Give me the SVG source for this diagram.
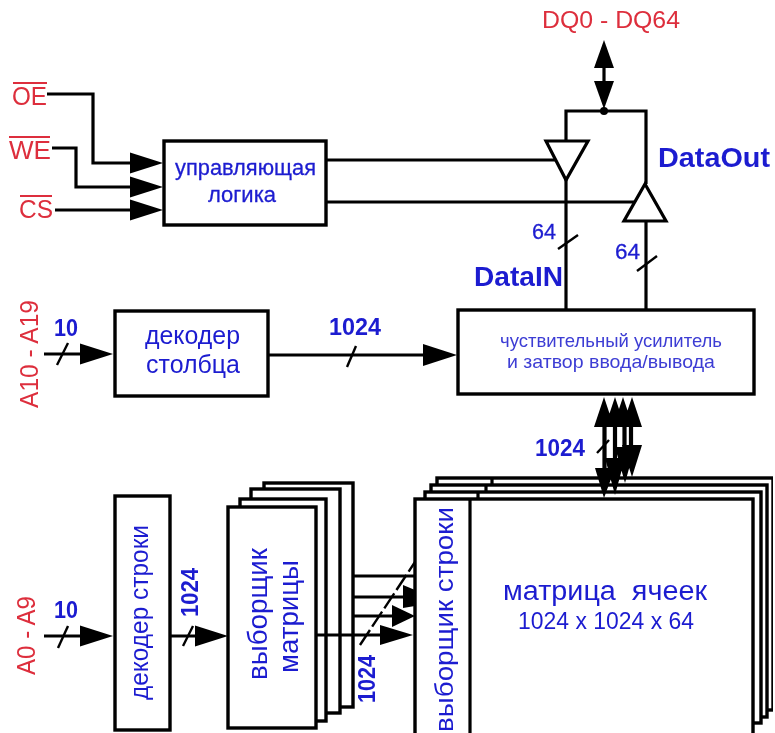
<svg xmlns="http://www.w3.org/2000/svg" xmlns:xlink="http://www.w3.org/1999/xlink" width="775" height="733" viewBox="0 0 775 733">
<style>
text{font-family:"Liberation Sans",Arial,sans-serif}
.box{fill:#fff;stroke:#000;stroke-width:3.4}
.w{fill:none;stroke:#000;stroke-width:3.2}
.t{fill:none;stroke:#000;stroke-width:2.8}
.v{fill:none;stroke:#000;stroke-width:4.2}
.sl{fill:none;stroke:#000;stroke-width:2.4}
.tri{fill:#fff;stroke:#000;stroke-width:3.2;stroke-linejoin:miter}
.r{fill:#dd2f3c;font-size:26px}
.b{fill:#1c1cd0;font-size:27px}
.bb{fill:#1c1cd0;font-weight:bold;font-size:23px}
.ob{stroke:#dd2f3c;stroke-width:2}
</style>
<defs>
<path id="ah" d="M0 0L-33 -10.500L-33 10.500Z" fill="#000"/>
<filter id="soft" x="0" y="0" width="100%" height="100%"><feGaussianBlur stdDeviation="0.45"/></filter>
</defs>
<rect width="775" height="733" fill="#fff"/>
<g filter="url(#soft)">
<g id="cell-matrix">
<rect class="box" x="437" y="478" width="336" height="232"/>
<line class="w" x1="492" y1="478" x2="492" y2="485"/>
<rect class="box" x="431" y="485" width="336" height="232"/>
<line class="w" x1="486" y1="485" x2="486" y2="492"/>
<rect class="box" x="425" y="492" width="336" height="231"/>
<line class="w" x1="478" y1="492" x2="478" y2="499"/>
<rect class="box" x="415" y="499" width="338" height="240"/>
<line class="w" x1="470" y1="499" x2="470" y2="733"/>
<text class="b" transform="translate(453 732) rotate(-90)" textLength="225" lengthAdjust="spacingAndGlyphs" style="font-size:26px">выборщик строки</text>
<text class="b" x="503" y="600" textLength="204" lengthAdjust="spacingAndGlyphs" xml:space="preserve" style="font-size:27px;white-space:pre">матрица  ячеек</text>
<text class="b" x="518" y="629" textLength="176" lengthAdjust="spacingAndGlyphs" style="font-size:23px">1024 x 1024 x 64</text>
</g>
<g id="array-selector">
<rect class="box" x="264" y="483" width="89" height="224"/>
<rect class="box" x="251" y="489" width="89" height="224"/>
<rect class="box" x="240" y="499" width="86" height="222"/>
<rect class="box" x="228" y="507" width="88" height="221"/>
<text class="b" transform="translate(267 680) rotate(-90)" textLength="132" lengthAdjust="spacingAndGlyphs">выборщик</text>
<text class="b" transform="translate(298 673) rotate(-90)" textLength="113" lengthAdjust="spacingAndGlyphs">матрицы</text>
</g>
<g id="row-decoder">
<rect class="box" x="115" y="496" width="55" height="234"/>
<text class="b" transform="translate(148 700) rotate(-90)" textLength="175" lengthAdjust="spacingAndGlyphs" style="font-size:25px">декодер строки</text>
</g>
<g id="column-decoder">
<rect class="box" x="115" y="311" width="153" height="85"/>
<text class="b" x="145" y="344" textLength="95" lengthAdjust="spacingAndGlyphs" style="font-size:25px">декодер</text>
<text class="b" x="146" y="373" textLength="94" lengthAdjust="spacingAndGlyphs" style="font-size:25px">столбца</text>
</g>
<g id="control-logic">
<rect class="box" x="164" y="141" width="162" height="84"/>
<text class="b" x="175" y="175" textLength="141" lengthAdjust="spacingAndGlyphs" style="font-size:22px;stroke:#1c1cd0;stroke-width:.3">управляющая</text>
<text class="b" x="208" y="202" textLength="68" lengthAdjust="spacingAndGlyphs" style="font-size:22px;stroke:#1c1cd0;stroke-width:.3">логика</text>
</g>
<g id="sense-amp">
<rect class="box" x="458" y="310" width="296" height="84"/>
<text class="b" x="500" y="347" textLength="222" lengthAdjust="spacingAndGlyphs" style="font-size:19px;fill:#3c3cd4">чуствительный усилитель</text>
<text class="b" x="507" y="368" textLength="208" lengthAdjust="spacingAndGlyphs" style="font-size:19px;fill:#3c3cd4">и затвор ввода/вывода</text>
</g>
<g id="connectors">
<path class="w" d="M47 94H93V163H135"/>
<path class="w" d="M52 148H76V187H135"/>
<path class="w" d="M55 210H135"/>
<use xlink:href="#ah" href="#ah" transform="translate(163 163)"/>
<use xlink:href="#ah" href="#ah" transform="translate(163 187)"/>
<use xlink:href="#ah" href="#ah" transform="translate(163 210)"/>
<path class="w" d="M326 160H556"/>
<path class="w" d="M326 202H634"/>
<path class="w" d="M566 141V111H646V184"/>
<path class="w" d="M566 180V310"/>
<path class="w" d="M646 221V310"/>
<path class="tri" d="M546 141H588L566 180Z"/>
<path class="tri" d="M645 184L666 221H624Z"/>
<path class="w" d="M604 60V90"/>
<circle cx="604" cy="111" r="4" fill="#000"/>
<use xlink:href="#ah" href="#ah" transform="translate(604 40) rotate(-90) scale(.85 .95)"/>
<use xlink:href="#ah" href="#ah" transform="translate(604 109) rotate(90) scale(.85 .95)"/>
<path class="w" d="M44 354H90"/>
<use xlink:href="#ah" href="#ah" transform="translate(113 354)"/>
<line class="sl" x1="57" y1="365" x2="68" y2="343"/>
<path class="w" d="M268 355H430"/>
<use xlink:href="#ah" href="#ah" transform="translate(457 355) scale(1.03 1.05)"/>
<line class="sl" x1="347" y1="367" x2="356" y2="346"/>
<path class="w" d="M44 636H90"/>
<use xlink:href="#ah" href="#ah" transform="translate(113 636)"/>
<line class="sl" x1="58" y1="648" x2="68" y2="626"/>
<path class="w" d="M170 636H205"/>
<use xlink:href="#ah" href="#ah" transform="translate(228 636)"/>
<line class="sl" x1="183" y1="646" x2="193" y2="626"/>
<path class="t" d="M353 576H415"/>
<path class="t" d="M353 597H408"/>
<path class="t" d="M353 616H400"/>
<path class="w" d="M316 635H390"/>
<path d="M403 585L415 590V606L403 608Z" fill="#000"/>
<path d="M415 616L392 605V627Z" fill="#000"/>
<path d="M413 635L380 625V645Z" fill="#000"/>
<line x1="360" y1="645" x2="415" y2="562" stroke="#000" stroke-width="2.400" stroke-dasharray="18 4"/>
<path class="v" d="M604.500 420V475M615 420V470M624.500 420V460M631 420V450"/>
<path d="M604 397L594 427H614ZM615 397L605 427H625ZM623 397L613 427H633ZM632 397L622 427H642Z" fill="#000"/>
<path d="M632 477L622 445H642ZM625 483L615 447H635ZM615 495L605 458H625ZM604 498L595 468H615Z" fill="#000"/>
<line class="sl" x1="597" y1="453" x2="609" y2="440"/>
<line class="sl" x1="558" y1="249" x2="578" y2="235"/>
<line class="sl" x1="637" y1="271" x2="657" y2="256"/>
</g>
<g id="labels">
<text class="r" x="542" y="28" textLength="138" lengthAdjust="spacingAndGlyphs" style="font-size:24px">DQ0 - DQ64</text>
<text class="r" x="12" y="105" textLength="35" lengthAdjust="spacingAndGlyphs">OE</text>
<line class="ob" x1="13" y1="83" x2="47" y2="83"/>
<text class="r" x="9" y="159" textLength="42" lengthAdjust="spacingAndGlyphs">WE</text>
<line class="ob" x1="9" y1="137" x2="50" y2="137"/>
<text class="r" x="19" y="218" textLength="34" lengthAdjust="spacingAndGlyphs">CS</text>
<line class="ob" x1="20" y1="196" x2="52" y2="196"/>
<text class="r" transform="translate(38 408) rotate(-90)" textLength="108" lengthAdjust="spacingAndGlyphs">A10 - A19</text>
<text class="r" transform="translate(35 675) rotate(-90)" textLength="79" lengthAdjust="spacingAndGlyphs">A0 - A9</text>
<text class="bb" x="54" y="336" textLength="24" lengthAdjust="spacingAndGlyphs">10</text>
<text class="bb" x="54" y="618" textLength="24" lengthAdjust="spacingAndGlyphs">10</text>
<text class="bb" x="329" y="335" textLength="52" lengthAdjust="spacingAndGlyphs">1024</text>
<text class="bb" x="535" y="456" textLength="50" lengthAdjust="spacingAndGlyphs">1024</text>
<text class="bb" transform="translate(198 617) rotate(-90)" textLength="49" lengthAdjust="spacingAndGlyphs">1024</text>
<text class="bb" transform="translate(375 703) rotate(-90)" textLength="48" lengthAdjust="spacingAndGlyphs">1024</text>
<text class="b" x="532" y="239" textLength="24" lengthAdjust="spacingAndGlyphs" style="font-size:22px;stroke:#1c1cd0;stroke-width:.3">64</text>
<text class="b" x="615" y="259" textLength="25" lengthAdjust="spacingAndGlyphs" style="font-size:22px;stroke:#1c1cd0;stroke-width:.3">64</text>
<text class="bb" x="658" y="167" textLength="112" lengthAdjust="spacingAndGlyphs" style="font-size:27px">DataOut</text>
<text class="bb" x="474" y="286" textLength="89" lengthAdjust="spacingAndGlyphs" style="font-size:27px">DataIN</text>
</g>
</g>
</svg>
